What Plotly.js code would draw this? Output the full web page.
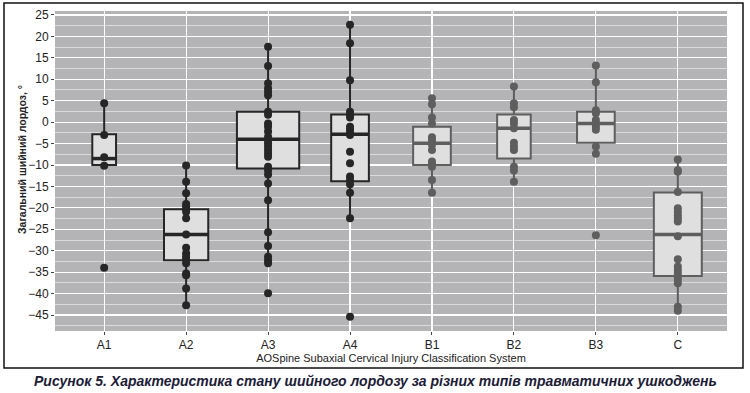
<!DOCTYPE html>
<html><head><meta charset="utf-8">
<script src="https://cdn.plot.ly/plotly-3.0.1.min.js"></script>
<style>html,body{margin:0;padding:0;background:#fff}#chart{width:750px;height:393px}</style>
</head><body><div id="chart"></div>
<script>
// ---- data ----
const categories = ['A1','A2','A3','A4','B1','B2','B3','C'];

const pointsA1 = [4.4, -3.0, -8.2, -10.2, -34.0];
const pointsA2 = [-10.1, -13.9, -16.6, -19.1, -19.7, -20.3, -20.9, -22.4, -26.2, -29.3, -30.6, -31.4, -32.0, -32.9, -35.3, -35.7, -38.8, -42.7];
const pointsA3 = [17.6, 13.1, 9.1, 7.9, 7.1, 6.3, 2.4, 1.7, -0.3, -1.1, -2.2, -3.4, -4.2, -4.9, -5.7, -6.5, -7.3, -8.1, -10.4, -11.2, -12.2, -14.3, -18.2, -25.7, -28.9, -31.4, -32.2, -32.9, -39.9];
const pointsA4 = [22.7, 18.4, 9.8, 2.4, 1.7, 1.1, -1.1, -1.8, -2.5, -3.0, -6.9, -9.6, -12.7, -13.5, -14.5, -16.5, -22.4, -45.4];
const pointsB1 = [5.6, 4.2, 1.1, -0.3, -3.5, -4.2, -5.3, -6.5, -9.2, -9.8, -10.4, -13.5, -16.5];
const pointsB2 = [8.3, 4.4, 3.5, 0.5, -0.3, -1.4, -4.8, -5.7, -6.5, -10.4, -11.3, -13.9];
const pointsB3 = [13.2, 9.3, 2.8, 2.1, 0.5, -0.3, -1.1, -1.8, -5.7, -7.4, -26.4];
const pointsC  = [-8.7, -11.2, -11.6, -16.3, -20.1, -20.9, -21.7, -22.4, -23.2, -26.6, -32.0, -33.7, -34.5, -35.3, -36.1, -36.8, -37.6, -43.1, -44.0];

const q1Values     = [-10.0, -32.2, -10.8, -13.8, -10.0, -8.5, -4.8, -35.9];
const medianValues = [-8.5, -26.2, -4.0, -2.8, -4.9, -1.4, -0.3, -26.2];
const q3Values     = [-2.8, -20.3, 2.4, 1.8, -1.1, 1.8, 2.4, -16.4];
const lowerFences  = [-10.2, -42.7, -32.9, -22.4, -16.5, -13.9, -7.4, -44.0];
const upperFences  = [4.4, -10.1, 17.6, 22.7, 5.6, 8.3, 13.2, -8.7];

const yTickValues = [25,20,15,10,5,0,-5,-10,-15,-20,-25,-30,-35,-40,-45];

// ---- styles ----
const allPoints = [pointsA1, pointsA2, pointsA3, pointsA4, pointsB1, pointsB2, pointsB3, pointsC];
const boxWidths = [0.29, 0.54, 0.76, 0.46, 0.46, 0.41, 0.46, 0.585];
const dark = '#262626', grey = '#5e5e5e';
const colors = [dark, dark, dark, dark, grey, grey, grey, grey];
const FONT = '"Liberation Sans Narrow", "Arial Narrow", "Liberation Sans", Arial, sans-serif';

const traces = [];
const shapes = [];
categories.forEach((cat, i) => {
  traces.push({
    type: 'box', x: [cat],
    q1: [q1Values[i]], median: [medianValues[i]], q3: [q3Values[i]],
    lowerfence: [lowerFences[i]], upperfence: [upperFences[i]],
    width: boxWidths[i], whiskerwidth: 0, boxpoints: false,
    fillcolor: '#dfdfdf', line: {color: colors[i], width: 2},
    hoverinfo: 'skip', showlegend: false
  });
});
categories.forEach((cat, i) => {
  traces.push({
    type: 'scatter', mode: 'markers',
    x: allPoints[i].map(() => cat), y: allPoints[i],
    marker: {size: 8, color: colors[i]},
    hoverinfo: 'skip', showlegend: false
  });
  shapes.push({
    type: 'line', xref: 'x', yref: 'y', layer: 'above',
    x0: i - boxWidths[i] / 2, x1: i + boxWidths[i] / 2,
    y0: medianValues[i], y1: medianValues[i],
    line: {color: colors[i], width: 3.5}
  });
});

shapes.push({
  type: 'rect', xref: 'paper', yref: 'paper',
  x0: (4 - 55) / 672, x1: (743 - 55) / 672,
  y0: (331 - 368) / 320, y1: (331 - 3) / 320,
  line: {color: '#111', width: 1.5}, fillcolor: 'rgba(0,0,0,0)'
});

const layout = {
  width: 750, height: 393,
  margin: {l: 55, r: 23, t: 11, b: 62},
  paper_bgcolor: '#ffffff', plot_bgcolor: '#b4b4b6',
  boxmode: 'overlay', showlegend: false,
  font: {family: FONT, color: '#222'},
  xaxis: {
    type: 'category', categoryorder: 'array', categoryarray: categories,
    range: [-0.6, 7.6],
    showgrid: true, gridcolor: '#ffffff', gridwidth: 1.1,
    ticks: 'outside', ticklen: 3, tickcolor: '#444', tickwidth: 1,
    tickfont: {size: 12, color: '#222', family: FONT},
    showline: false, zeroline: false,
    title: {text: 'AOSpine Subaxial Cervical Injury Classification System', font: {size: 11, color: '#222', family: FONT}, standoff: 2}
  },
  yaxis: {
    range: [-48.73, 25.93],
    tickvals: yTickValues,
    showgrid: true, gridcolor: '#ffffff', gridwidth: 1.1,
    minor: {dtick: 2.5, tick0: 0, showgrid: true, gridcolor: '#e9e9ea', gridwidth: 0.7},
    ticks: 'outside', ticklen: 3, tickcolor: '#444', tickwidth: 1,
    tickfont: {size: 12, color: '#222', family: FONT},
    zeroline: false, showline: false
  },
  shapes: shapes,
  annotations: [{
    xref: 'paper', yref: 'paper', x: (22 - 55) / 672, y: (331 - 160) / 320,
    xanchor: 'center', yanchor: 'middle', showarrow: false, textangle: -90,
    text: '<b>Загальний шийний лордоз, °</b>',
    font: {size: 10.5, color: '#222', family: FONT}
  }, {
    xref: 'paper', yref: 'paper', x: (375 - 55) / 672, y: (331 - 381) / 320,
    xanchor: 'center', yanchor: 'middle', showarrow: false,
    text: '<b><i>Рисунок 5. Характеристика стану шийного лордозу за різних типів травматичних ушкоджень</i></b>',
    font: {size: 14, color: '#1c1c38', family: FONT}
  }]
};

Plotly.newPlot('chart', traces, layout, {displayModeBar: false, staticPlot: true});
</script>
</body></html>
